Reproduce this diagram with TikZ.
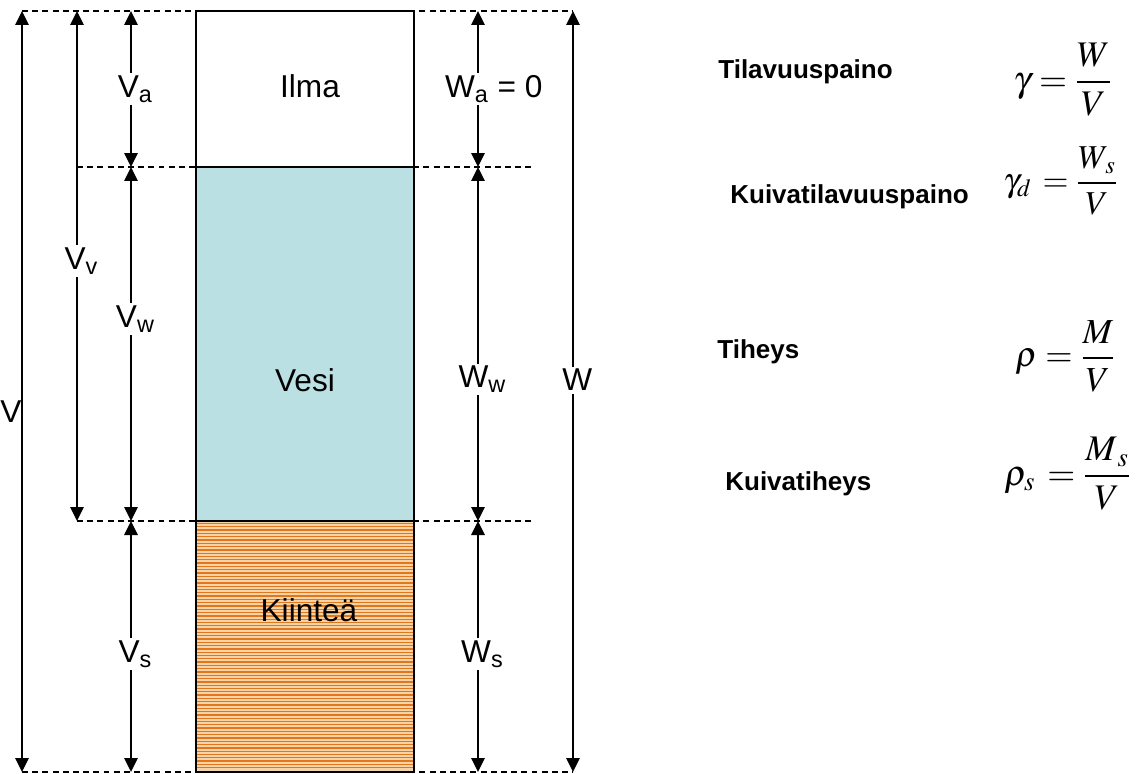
\documentclass[tikz,border=0pt]{standalone}
\usepackage{mathptmx}
\usepackage{fontspec}
\setmainfont{Liberation Sans}
\usepackage{xcolor}
\usetikzlibrary{arrows.meta}

\definecolor{water}{HTML}{BBE0E3}
\definecolor{soil}{HTML}{F7D3A8}
\definecolor{soilline}{HTML}{E0771C}

\begin{document}
\begin{tikzpicture}[
    x=0.02cm, y=-0.02cm,
    dim/.style={{Triangle[length=0.28cm,width=0.27cm]}-{Triangle[length=0.28cm,width=0.27cm]}, line width=1pt},
    guide/.style={dash pattern=on 3.4pt off 2.4pt, line width=0.8pt},
    lbl/.style={fill=white, inner sep=1.5pt, font=\fontsize{18}{20}\selectfont},
    phase/.style={font=\fontsize{18}{20}\selectfont},
    quantity/.style={font=\bfseries\fontsize{14.8}{17}\selectfont, anchor=base west, inner sep=0},
    formula/.style={font=\fontsize{20.5}{24}\selectfont, anchor=west, inner sep=0}
]
\useasboundingbox (0,0) rectangle (1137,774);

% levels and columns
\coordinate (top) at (0,11);
\coordinate (airbot) at (0,167);
\coordinate (waterbot) at (0,521);
\coordinate (bot) at (0,772);
\coordinate (xV) at (22,0);
\coordinate (xVv) at (77,0);
\coordinate (xVi) at (131,0);
\coordinate (xWi) at (478,0);
\coordinate (xW) at (573,0);
\coordinate (colL) at (196,0);
\coordinate (colR) at (414,0);
\coordinate (guideR) at (533,0);

% dashed guides
\draw[guide] (xV |- top) -- (xW |- top);
\draw[guide] (xVv |- airbot) -- (guideR |- airbot);
\draw[guide] (xVv |- waterbot) -- (guideR |- waterbot);
\draw[guide] (xV |- bot) -- (xW |- bot);

% column
\fill[water] (colL |- airbot) rectangle (colR |- waterbot);
\fill[soil] (colL |- waterbot) rectangle (colR |- bot);
\foreach \y in {523.5,526.8,...,771}
    \draw[soilline, line width=0.75pt] (196,\y) -- (414,\y);
\draw[line width=1.2pt] (colL |- top) rectangle (colR |- bot);
\draw[line width=1.2pt] (colL |- airbot) -- (colR |- airbot);
\draw[line width=1.2pt] (colL |- waterbot) -- (colR |- waterbot);

\node[phase] (ilma) at (310,86) {Ilma};
\node[phase] (vesi) at (305,380) {Vesi};
\node[phase] (kiintea) at (309,610) {Kiinteä};

% volumes
\draw[dim] (xV |- top) -- (xV |- bot);
\node[phase] (V) at (11,412) {V};
\draw[dim] (xVv |- top) -- node[lbl, pos=0.49, xshift=2.5pt] (Vv) {V\textsubscript{v}} (xVv |- waterbot);
\draw[dim] (xVi |- top) -- node[lbl, xshift=2.5pt] (Va) {V\textsubscript{a}} (xVi |- airbot);
\draw[dim] (xVi |- airbot) -- node[lbl, pos=0.43, xshift=2.5pt] (Vw) {V\textsubscript{w}} (xVi |- waterbot);
\draw[dim] (xVi |- waterbot) -- node[lbl, pos=0.53, xshift=2.5pt] (Vs) {V\textsubscript{s}} (xVi |- bot);

% weights
\draw[dim] (xWi |- top) -- node[lbl, xshift=9pt] (Wa) {W\textsubscript{a} = 0} (xWi |- airbot);
\draw[dim] (xWi |- airbot) -- node[lbl, pos=0.6, xshift=2.5pt] (Ww) {W\textsubscript{w}} (xWi |- waterbot);
\draw[dim] (xWi |- waterbot) -- node[lbl, pos=0.53, xshift=2.5pt] (Ws) {W\textsubscript{s}} (xWi |- bot);
\draw[dim] (xW |- top) -- node[lbl, pos=0.485, xshift=2.5pt] (W) {W} (xW |- bot);

% definitions
\node[quantity] (tilavuus) at (718,78) {Tilavuuspaino};
\node[quantity] (kuivatilavuus) at (730,203) {Kuivatilavuuspaino};
\node[quantity] (tiheys) at (717,358) {Tiheys};
\node[quantity] (kuivatiheys) at (725,490) {Kuivatiheys};

\node[formula] (gamma) at (1013,80) {$\displaystyle\gamma = \frac{W}{V}$};
\node[formula, font=\fontsize{19}{22}\selectfont] (gammad) at (1003,181) {$\displaystyle\gamma_d\, = \frac{W_{\,s}}{V}$};
\node[formula, font=\fontsize{20}{24}\selectfont] (rho) at (1015,356) {$\displaystyle\rho = \frac{M}{V}$};
\node[formula] (rhos) at (1004,474) {$\displaystyle\rho_s\, = \frac{M_{\,s}}{V}$};

\end{tikzpicture}
\end{document}
